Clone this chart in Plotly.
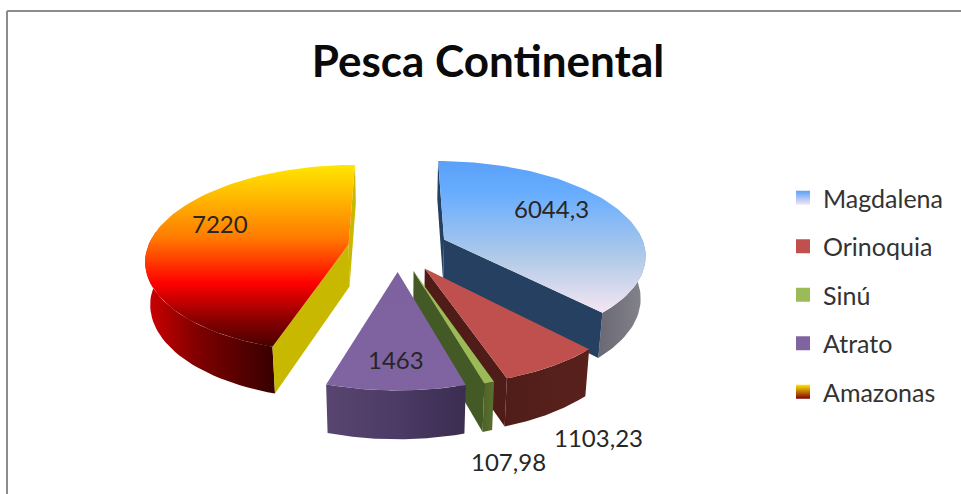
import math
import plotly.graph_objects as go

categories = ["Magdalena", "Orinoquia", "Sinú", "Atrato", "Amazonas"]
values = [6044.3, 1103.23, 107.98, 1463, 7220]
value_labels = ["6044,3", "1103,23", "107,98", "1463", "7220"]
title_text = "Pesca Continental"

# view parameters of the tilted, exploded pie
X0, Y0, RX, RY, PERSP, DEPTH, EXPLODE, SHRINK = 398, 248, 201, 92.6, 0.15, 42, 0.25, 0.02

def grad(kind, stops):
    return dict(type=kind, colorscale=stops)

styles = {
    "Magdalena": dict(
        top=grad("vertical", [[0, "#f5e6f3"], [0.35, "#b3cbe8"], [0.8, "#66acff"], [1, "#5aa0f8"]]),
        wall=grad("horizontal", [[0, "#6a6874"], [1, "#85858c"]]),
        start="#254061", end="#254061", swatch=("#5aa0f8", "#f5e6f3")),
    "Orinoquia": dict(
        top=grad("vertical", [[0, "#c0504d"], [1, "#c0504d"]]),
        wall=grad("horizontal", [[0, "#501d19"], [1, "#5a211c"]]),
        start=None, end="#4f1c18", swatch=("#c0504d", "#c0504d")),
    "Sinú": dict(
        top=grad("vertical", [[0, "#9bbb59"], [1, "#9bbb59"]]),
        wall=grad("horizontal", [[0, "#4f6228"], [1, "#5a7030"]]),
        start=None, end="#445a26", swatch=("#9bbb59", "#9bbb59")),
    "Atrato": dict(
        top=grad("vertical", [[0, "#8064a2"], [1, "#7e62a0"]]),
        wall=grad("horizontal", [[0, "#584570"], [0.5, "#4c3b66"], [1, "#3b2d50"]]),
        start=None, end=None, swatch=("#8064a2", "#8064a2")),
    "Amazonas": dict(
        top=grad("vertical", [[0, "#480000"], [0.15, "#8a0000"], [0.35, "#ff0000"], [0.6, "#ff7b00"], [0.85, "#ffc000"], [1, "#ffe600"]]),
        wall=grad("horizontal", [[0, "#d00000"], [0.4, "#800000"], [1, "#360000"]]),
        start="#c8b900", end="#c8b900", swatch=("#ffe600", "#800000")),
}
draw_order = ["Magdalena", "Amazonas", "Orinoquia", "Sinú", "Atrato"]

def project(X, Y, z):
    s = 1 / (1 + PERSP * Y)
    k = 1 - SHRINK * z
    return X0 + RX * X * s * k, Y0 - RY * Y * s * k + DEPTH * z * s

total = sum(values)
slices = {}
angle = 0.0
for name, v in zip(categories, values):
    sweep = 2 * math.pi * v / total
    mid = angle + sweep / 2
    slices[name] = (angle, angle + sweep, EXPLODE * math.sin(mid), EXPLODE * math.cos(mid))
    angle += sweep

fig = go.Figure()

def poly(points, gradient=None, color=None):
    xs = [p[0] for p in points] + [points[0][0]]
    ys = [p[1] for p in points] + [points[0][1]]
    t = dict(x=xs, y=ys, mode="lines", line=dict(width=0), fill="toself",
             hoverinfo="skip", showlegend=False)
    if gradient:
        t["fillgradient"] = gradient
    else:
        t["fillcolor"] = color
    fig.add_trace(go.Scatter(**t))

for name in draw_order:
    a, b, ex, ey = slices[name]
    st = styles[name]
    rim = lambda th, z: project(ex + math.sin(th), ey + math.cos(th), z)
    n = 80
    thetas = [a + (b - a) * i / n for i in range(n + 1)]
    apex_t, apex_b = project(ex, ey, 0), project(ex, ey, 1)
    front = [t for t in thetas if math.pi * 0.47 < t < math.pi * 1.55]
    poly([rim(t, 0) for t in front] + [rim(t, 1) for t in reversed(front)], gradient=st["wall"])
    if st["start"]:
        poly([apex_t, rim(a, 0), rim(a, 1), apex_b], color=st["start"])
    if st["end"]:
        poly([apex_t, rim(b, 0), rim(b, 1), apex_b], color=st["end"])
    poly([apex_t] + [rim(t, 0) for t in thetas], gradient=st["top"])

for name in categories:
    c1, c2 = styles[name]["swatch"]
    fig.add_trace(go.Scatter(
        x=[None], y=[None], mode="markers", name=name, legendgroup=name,
        marker=dict(symbol="square", size=14, color=c1,
                    gradient=dict(type="vertical", color=c2))))

label_pos = {"Magdalena": (551, 208), "Orinoquia": (598, 437), "Sinú": (508, 461),
             "Atrato": (396, 359), "Amazonas": (220, 223)}
for name, text in zip(categories, value_labels):
    fig.add_annotation(x=label_pos[name][0], y=label_pos[name][1], text=text, showarrow=False,
                       font=dict(family="Lato", size=24, color="#262626"))

fig.update_layout(
    width=961, height=494, autosize=False,
    margin=dict(l=0, r=0, t=0, b=0),
    paper_bgcolor="white", plot_bgcolor="white",
    title=dict(text="<b>%s</b>" % title_text, x=488 / 961, xanchor="center", y=1 - 62 / 494, yanchor="middle",
               font=dict(family="Lato", size=44, color="#0a0a0a")),
    xaxis=dict(range=[0, 961], visible=False, fixedrange=True),
    yaxis=dict(range=[494, 0], visible=False, fixedrange=True),
    legend=dict(x=783 / 961, xanchor="left", y=1 - 175 / 494, yanchor="top",
                font=dict(family="Lato", size=25, color="#333333"),
                tracegroupgap=13, bgcolor="rgba(0,0,0,0)", itemclick=False, itemdoubleclick=False),
    shapes=[
        dict(type="line", xref="x", yref="y", x0=7, x1=961, y0=11, y1=11, line=dict(color="#8c8c8c", width=2)),
        dict(type="line", xref="x", yref="y", x0=7, x1=7, y0=11, y1=494, line=dict(color="#8c8c8c", width=2)),
    ],
)
fig.write_html("out.html", config=dict(displayModeBar=False),
               post_script="document.body.style.margin='0';document.body.style.overflow='hidden';")
